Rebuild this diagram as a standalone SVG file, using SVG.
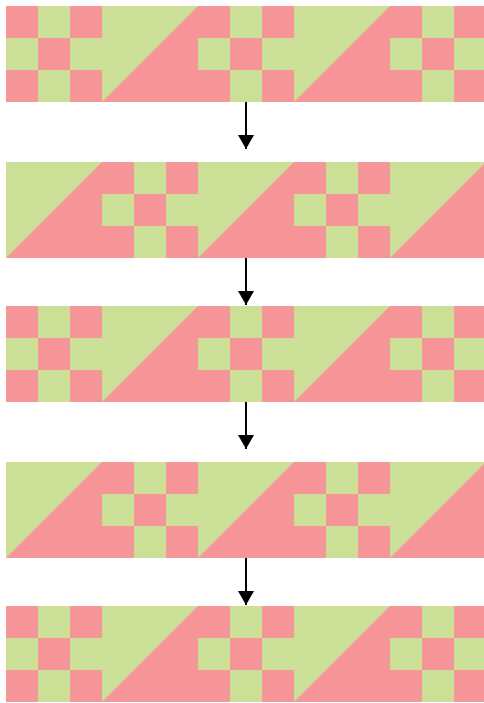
<svg xmlns="http://www.w3.org/2000/svg" xmlns:xlink="http://www.w3.org/1999/xlink" width="484" height="703" viewBox="0 0 484 703">
<style>
.p{fill:#f59597}
.g{fill:#cbdf96}
.conn line{stroke:#000;stroke-width:2}
</style>
<defs>
<g id="chk" shape-rendering="crispEdges">
<rect class="g" x="0" y="0" width="96" height="96"/>
<rect class="p" x="0" y="0" width="32" height="32"/>
<rect class="p" x="64" y="0" width="32" height="32"/>
<rect class="p" x="32" y="32" width="32" height="32"/>
<rect class="p" x="0" y="64" width="32" height="32"/>
<rect class="p" x="64" y="64" width="32" height="32"/>
</g>
<g id="tri">
<rect class="p" x="0" y="0" width="96" height="96" shape-rendering="crispEdges"/>
<polygon class="g" points="0,0 96,0 0,96"/>
</g>
<marker id="ah" markerWidth="7" markerHeight="8" refX="7" refY="4" orient="auto" markerUnits="strokeWidth">
<polygon points="0,0 7,4 0,8" fill="#000"/>
</marker>
</defs>
<g id="strip1">
<use xlink:href="#chk" x="6" y="6"/><use xlink:href="#tri" x="102" y="6"/><use xlink:href="#chk" x="198" y="6"/><use xlink:href="#tri" x="294" y="6"/><use xlink:href="#chk" x="390" y="6"/>
</g>
<g id="strip2">
<use xlink:href="#tri" x="6" y="162"/><use xlink:href="#chk" x="102" y="162"/><use xlink:href="#tri" x="198" y="162"/><use xlink:href="#chk" x="294" y="162"/><use xlink:href="#tri" x="390" y="162"/>
</g>
<g id="strip3">
<use xlink:href="#chk" x="6" y="306"/><use xlink:href="#tri" x="102" y="306"/><use xlink:href="#chk" x="198" y="306"/><use xlink:href="#tri" x="294" y="306"/><use xlink:href="#chk" x="390" y="306"/>
</g>
<g id="strip4">
<use xlink:href="#tri" x="6" y="462"/><use xlink:href="#chk" x="102" y="462"/><use xlink:href="#tri" x="198" y="462"/><use xlink:href="#chk" x="294" y="462"/><use xlink:href="#tri" x="390" y="462"/>
</g>
<g id="strip5">
<use xlink:href="#chk" x="6" y="606"/><use xlink:href="#tri" x="102" y="606"/><use xlink:href="#chk" x="198" y="606"/><use xlink:href="#tri" x="294" y="606"/><use xlink:href="#chk" x="390" y="606"/>
</g>
<g class="conn">
<line x1="246" y1="102" x2="246" y2="149" marker-end="url(#ah)"/>
<line x1="246" y1="258" x2="246" y2="305" marker-end="url(#ah)"/>
<line x1="246" y1="402" x2="246" y2="449" marker-end="url(#ah)"/>
<line x1="246" y1="558" x2="246" y2="605" marker-end="url(#ah)"/>
</g>
</svg>
